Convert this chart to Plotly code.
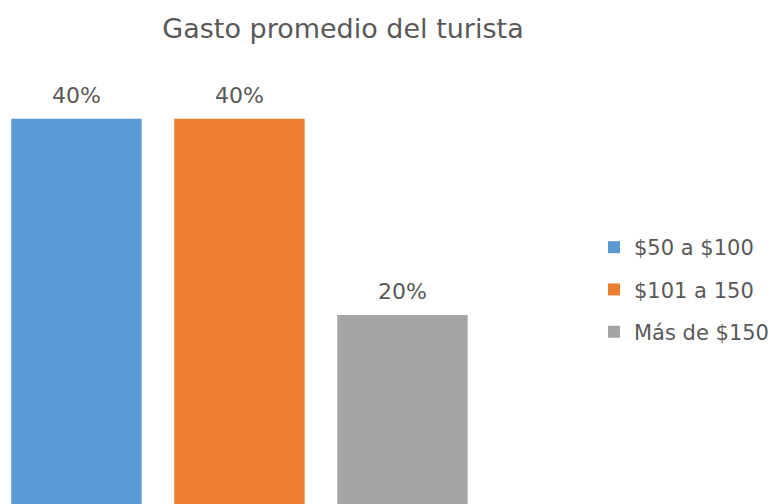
import plotly.graph_objects as go

categories = ["$50 a $100", "$101 a 150", "Más de $150"]
values = [0.40, 0.40, 0.20]
labels = ["40%", "40%", "20%"]
colors = ["#5B9BD5", "#ED7D31", "#A5A5A5"]

FONT = "DejaVu Sans"
TXT = "#595959"

fig = go.Figure()
for i, (c, v, col) in enumerate(zip(categories, values, colors)):
    fig.add_trace(go.Bar(
        x=[i], y=[v], name=c,
        marker=dict(color=col, line=dict(width=0)),
        width=0.8, legendgroup=c, hoverinfo="skip",
    ))

for i, (v, t) in enumerate(zip(values, labels)):
    fig.add_annotation(x=i, y=v, text=t, showarrow=False, xanchor="center",
                       yanchor="bottom", yshift=9,
                       font=dict(family=FONT, size=22, color=TXT))

fig.update_layout(
    width=779, height=504,
    margin=dict(l=0, r=0, t=60, b=0),
    paper_bgcolor="white", plot_bgcolor="white",
    barmode="overlay",
    font=dict(family=FONT, color=TXT),
    title=dict(text="Gasto promedio del turista", x=343/779, xanchor="center",
               xref="container", yref="container",
               y=1 - 29/504, yanchor="middle",
               font=dict(family=FONT, size=27, color=TXT)),
    xaxis=dict(range=[-0.469, -0.469 + 779/163], visible=False),
    yaxis=dict(range=[0.00714, 0.460], visible=False),
    showlegend=True,
    legend=dict(xref="paper", yref="paper",
                x=594/779, xanchor="left", y=(504 - 227) / 444, yanchor="top",
                font=dict(family=FONT, size=21, color=TXT), tracegroupgap=12,
                bgcolor="rgba(0,0,0,0)", borderwidth=0),
)

fig.write_html("out.html")
